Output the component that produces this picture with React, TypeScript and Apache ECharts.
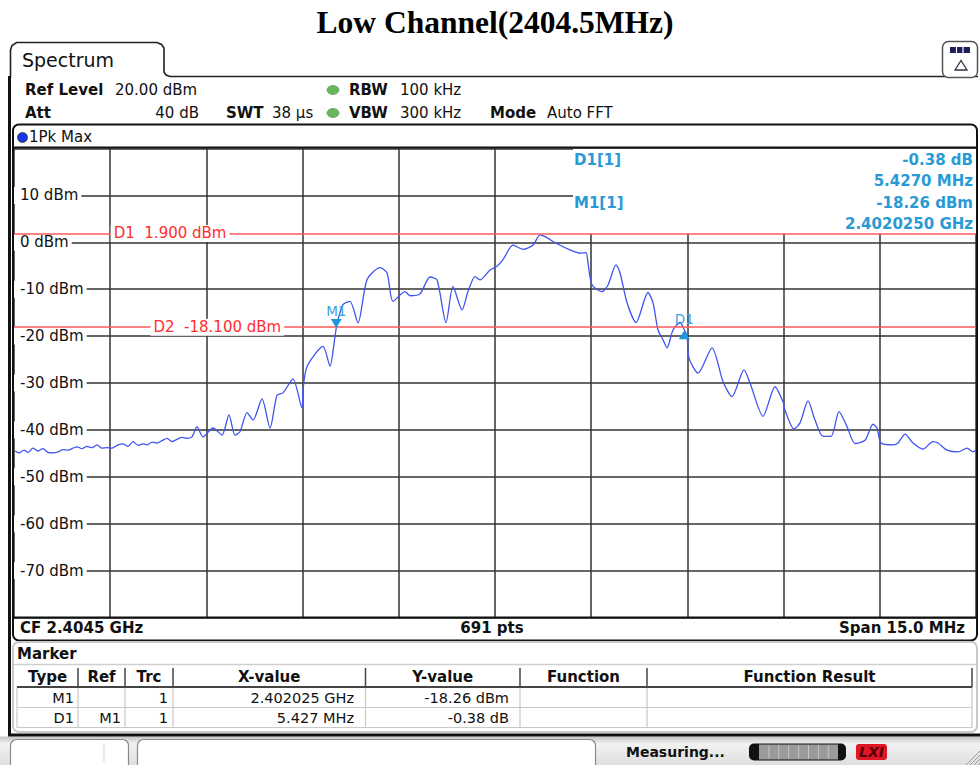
import React, { useEffect, useRef } from "react";
import * as echarts from "echarts";

const FONT = "'DejaVu Sans', Verdana, sans-serif";
const TITLE_FONT = "'Liberation Serif', 'Times New Roman', serif";

const titleText = "Low Channel(2404.5MHz)";

// trace (frequency in MHz, level in dBm)
const freqMHz = [
  2397.016, 2397.078, 2397.156, 2397.218, 2397.296, 2397.374, 2397.452, 2397.53, 2397.608, 2397.686,
  2397.764, 2397.842, 2397.92, 2397.982, 2398.06, 2398.138, 2398.216, 2398.294, 2398.372, 2398.45,
  2398.528, 2398.622, 2398.7, 2398.778, 2398.856, 2398.934, 2399.012, 2399.074, 2399.152, 2399.23,
  2399.308, 2399.386, 2399.464, 2399.542, 2399.62, 2399.698, 2399.776, 2399.853, 2399.947, 2400.103,
  2400.243, 2400.352, 2400.446, 2400.524, 2400.633, 2400.727, 2400.867, 2400.992, 2401.101, 2401.195,
  2401.35, 2401.491, 2401.506, 2401.569, 2401.818, 2401.927, 2402.005, 2402.025, 2402.052, 2402.13,
  2402.239, 2402.364, 2402.504, 2402.707, 2402.816, 2402.91, 2403.097, 2403.175, 2403.331, 2403.487,
  2403.596, 2403.736, 2403.845, 2403.986, 2404.079, 2404.188, 2404.266, 2404.422, 2404.531, 2404.625,
  2404.781, 2404.937, 2405.093, 2405.202, 2405.28, 2405.467, 2405.67, 2405.826, 2405.919, 2405.95,
  2406.013, 2406.169, 2406.262, 2406.387, 2406.449, 2406.559, 2406.699, 2406.886, 2406.964, 2407.042,
  2407.12, 2407.182, 2407.276, 2407.385, 2407.452, 2407.494, 2407.525, 2407.666, 2407.884, 2408.055,
  2408.196, 2408.383, 2408.476, 2408.679, 2408.866, 2408.991, 2409.022, 2409.163, 2409.256, 2409.381,
  2409.49, 2409.615, 2409.74, 2409.864, 2409.989, 2410.114, 2410.27, 2410.394, 2410.457, 2410.519,
  2410.706, 2410.784, 2410.893, 2411.018, 2411.174, 2411.33, 2411.408, 2411.548, 2411.72, 2411.86,
  2411.954, 2412.0,
];
const levelDbm = [
  -44.5, -44.9, -44.3, -44.8, -43.9, -44.5, -44.0, -44.8, -44.9, -44.7,
  -44.2, -44.3, -43.9, -43.6, -44.0, -43.5, -43.8, -43.2, -43.9, -43.8,
  -43.9, -43.2, -43.0, -43.5, -42.5, -43.3, -43.0, -43.2, -42.6, -42.8,
  -42.3, -41.8, -42.5, -42.0, -41.6, -41.8, -41.5, -39.3, -41.5, -39.6,
  -41.1, -36.8, -41.1, -40.4, -36.3, -37.9, -33.4, -39.6, -32.6, -32.1,
  -29.1, -35.3, -31.5, -26.5, -22.2, -26.4, -20.1, -18.26, -16.5, -13.3,
  -12.6, -17.2, -8.0, -5.4, -6.5, -12.6, -10.5, -11.4, -11.0, -7.4,
  -8.0, -17.1, -9.4, -14.4, -10.5, -7.3, -8.0, -5.9, -5.1, -3.7,
  -0.6, -1.5, -0.6, 1.6, 1.2, -0.3, -1.6, -2.3, -2.2, -4.4,
  -9.1, -10.5, -9.1, -4.8, -6.5, -12.9, -17.1, -10.7, -12.9, -18.7,
  -20.8, -22.5, -18.7, -17.1, -18.64, -20.0, -24.7, -27.9, -22.5, -29.7,
  -32.9, -27.2, -30.0, -37.1, -30.8, -34.0, -35.8, -39.8, -38.5, -33.8,
  -37.9, -41.4, -41.4, -36.1, -39.3, -42.9, -42.2, -38.8, -39.6, -42.8,
  -43.2, -42.8, -40.9, -42.8, -44.1, -42.5, -42.8, -44.3, -44.7, -43.9,
  -44.7, -44.3,
];

const xMin = 2397;
const xMax = 2412;
const xStep = 1.5;
const yMin = -80;
const yMax = 20;
const yStep = 10;

const displayLineValues = [1.9, -18.1];
const displayLineLabels = ["D1  1.900 dBm", "D2  -18.100 dBm"];
const displayLabelFreq = [2398.5, 2399.12];

const markerNames = ["M1", "D1"];
const markerFreq = [2402.025, 2407.452];
const markerLevel = [-18.26, -18.64];

const markerInfoNames = ["D1[1]", "M1[1]"];
const markerInfoValues = ["-0.38 dB", "5.4270 MHz", "-18.26 dBm", "2.4020250 GHz"];

const tableHeaders = ["Type", "Ref", "Trc", "X-value", "Y-value", "Function", "Function Result"];
const tableRows = [
  ["M1", "", "1", "2.402025 GHz", "-18.26 dBm", "", ""],
  ["D1", "M1", "1", "5.427 MHz", "-0.38 dB", "", ""],
];

const BLUE_TXT = "#2a9ad6";

function txt(x: number, y: number, text: string, o: any = {}) {
  return {
    type: "text",
    x,
    y,
    z: 20,
    silent: true,
    style: {
      text,
      fill: o.fill || "#111",
      fontSize: o.size || 15,
      fontWeight: o.bold ? "bold" : "normal",
      fontStyle: o.italic ? "italic" : "normal",
      fontFamily: o.family || FONT,
      align: o.align || "left",
      verticalAlign: "middle",
    },
  };
}
function ln(x1: number, y1: number, x2: number, y2: number, stroke: string, w = 1, z = 15) {
  return { type: "line", z, silent: true, shape: { x1, y1, x2, y2 }, style: { stroke, lineWidth: w } };
}
function rc(x: number, y: number, w: number, h: number, style: any, r: any = 0, z = 15) {
  return { type: "rect", z, silent: true, shape: { x, y, width: w, height: h, r }, style };
}

export default function App() {
  const ref = useRef<HTMLDivElement>(null);
  useEffect(() => {
    document.body.style.margin = "0";
    const chart = echarts.init(ref.current!, null, { renderer: "svg" });

    const traceData = freqMHz.map((f, i) => [f, levelDbm[i]]);

    const g: any[] = [];
    // title
    g.push(txt(495, 22, titleText, { family: TITLE_FONT, bold: true, size: 31.5, fill: "#000", align: "center" }));
    // tab + outer panel
    g.push({
      type: "polyline",
      z: 15,
      silent: true,
      shape: {
        points: [
          [10.5, 78], [10.5, 50], [12, 45.5], [16.5, 42.5], [157, 42.5], [161.5, 44.5],
          [164, 48], [164, 72], [166, 75], [170, 76.5], [978, 76.5],
        ],
      },
      style: { stroke: "#222", lineWidth: 1.6, fill: "none" },
    });
    g.push(ln(9.5, 76, 9.5, 736, "#111", 3));
    g.push(ln(8, 735, 980, 735, "#111", 3));
    g.push(txt(22, 60, "Spectrum", { size: 19 }));
    // icon top right
    g.push(rc(942.5, 41.5, 35, 36, { fill: "#fff", stroke: "#555", lineWidth: 1.5 }, 6, 16));
    g.push(rc(950, 47, 20, 6, { fill: "#1d1d5c" }, 0, 17));
    g.push(ln(956.5, 47, 956.5, 53, "#fff", 1.2, 18));
    g.push(ln(963, 47, 963, 53, "#fff", 1.2, 18));
    g.push({
      type: "polygon",
      z: 17,
      silent: true,
      shape: { points: [[955, 70], [967, 70], [961, 60.5]] },
      style: { fill: "none", stroke: "#334", lineWidth: 1.3 },
    });

    // header
    g.push(txt(25, 90, "Ref Level", { bold: true }));
    g.push(txt(115, 90, "20.00 dBm"));
    g.push(txt(349, 90, "RBW", { bold: true }));
    g.push(txt(400, 90, "100 kHz"));
    g.push(txt(25, 113, "Att", { bold: true }));
    g.push(txt(199, 113, "40 dB", { align: "right" }));
    g.push(txt(226, 113, "SWT", { bold: true }));
    g.push(txt(272, 113, "38 µs"));
    g.push(txt(349, 113, "VBW", { bold: true }));
    g.push(txt(400, 113, "300 kHz"));
    g.push(txt(490, 113, "Mode", { bold: true }));
    g.push(txt(547, 113, "Auto FFT"));
    for (const cy of [90, 113]) {
      g.push({
        type: "ellipse",
        z: 16,
        silent: true,
        shape: { cx: 333, cy, rx: 6, ry: 4.5 },
        style: { fill: "#67b85a", stroke: "#7a9a7a", lineWidth: 0.8 },
      });
    }

    // diagram frame
    g.push(rc(13, 124.5, 964, 516, { fill: "none", stroke: "#111", lineWidth: 2 }, 6, 15));
    g.push(ln(13, 147.5, 977, 147.5, "#111", 2));
    g.push(ln(13, 617.5, 977, 617.5, "#111", 2));
    g.push({
      type: "circle",
      z: 16,
      silent: true,
      shape: { cx: 22.5, cy: 137.5, r: 5 },
      style: { fill: "#1737e6", stroke: "#333", lineWidth: 0.8 },
    });
    g.push(txt(29, 137, "1Pk Max", { size: 15 }));
    g.push(txt(20, 628, "CF 2.4045 GHz", { bold: true }));
    g.push(txt(492, 628, "691 pts", { bold: true, align: "center" }));
    g.push(txt(965, 628, "Span 15.0 MHz", { bold: true, align: "right" }));

    // marker info box
    g.push(rc(573, 149, 403, 84.5, { fill: "#fff" }, 0, 1));
    g.push(txt(574, 160, markerInfoNames[0], { bold: true, fill: BLUE_TXT }));
    g.push(txt(574, 203, markerInfoNames[1], { bold: true, fill: BLUE_TXT }));
    [160, 181, 203, 224].forEach((y, i) =>
      g.push(txt(973, y, markerInfoValues[i], { bold: true, fill: BLUE_TXT, align: "right" }))
    );

    // marker table panel
    g.push(rc(13, 642, 964, 90, { fill: "none", stroke: "#c8c8c8", lineWidth: 2 }, 6, 15));
    g.push(txt(17, 654, "Marker", { bold: true }));
    g.push(ln(14, 664.5, 976, 664.5, "#cfcfcf", 1.5));
    const colEdges = [17, 78, 125, 173, 365.5, 520, 647, 972];
    for (let i = 1; i < colEdges.length; i++) {
      g.push(ln(colEdges[i], 668, colEdges[i], 687, "#444", 1.5));
    }
    for (let i = 0; i < colEdges.length; i++) {
      g.push(ln(colEdges[i], 687, colEdges[i], 728, "#c8c8c8", 1.2));
    }
    g.push(ln(17, 687, 972, 687, "#444", 2));
    g.push(ln(17, 707.5, 972, 707.5, "#c8c8c8", 1.2));
    g.push(ln(17, 727.5, 972, 727.5, "#c8c8c8", 1.2));
    tableHeaders.forEach((h, i) =>
      g.push(txt((colEdges[i] + colEdges[i + 1]) / 2, 677, h, { bold: true, align: "center" }))
    );
    const rowRight = [74, 121, 168, 354, 509, 640, 965];
    tableRows.forEach((row, r) =>
      row.forEach((c, i) => {
        if (c) g.push(txt(rowRight[i], 697.5 + r * 20, c, { size: 14.5, align: "right" }));
      })
    );

    // status bar
    g.push(
      rc(0, 736.5, 980, 29, {
        fill: {
          type: "linear", x: 0, y: 0, x2: 0, y2: 1,
          colorStops: [{ offset: 0, color: "#c4c4c4" }, { offset: 0.25, color: "#f2f2f2" }, { offset: 1, color: "#dedede" }],
        },
      }, 0, 12)
    );
    g.push(rc(10.5, 739.5, 118, 32, { fill: "#fff", stroke: "#8a8a8a", lineWidth: 1.2 }, 6, 13));
    g.push(ln(104, 743, 104, 762, "#dddddd", 1.2, 14));
    g.push(rc(137.5, 739.5, 458, 32, { fill: "#fff", stroke: "#8a8a8a", lineWidth: 1.2 }, 6, 13));
    g.push(txt(626, 751.5, "Measuring...", { bold: true, size: 14 }));
    g.push(rc(749, 743.5, 97, 17, { fill: "#111" }, 5, 13));
    g.push(rc(759, 744.5, 79, 15, { fill: "#9a9a9a" }, 0, 14));
    for (let k = 1; k < 8; k++) g.push(ln(759 + k * 9.9, 745, 759 + k * 9.9, 759, "#c4c4c4", 1, 15));
    g.push(rc(856, 744, 31, 16, { fill: "#e01525" }, 3, 13));
    g.push(txt(871.5, 752, "LXI", { bold: true, italic: true, size: 14, fill: "#5a0008", align: "center" }));
    for (let k = 0; k < 4; k++) g.push(ln(966 + k * 4, 765, 980, 751 + k * 4, "#9a9a9a", 1, 14));

    const markData: any[] = displayLineValues.map((v, i) => ({
      coord: [displayLabelFreq[i], v],
      symbol: "circle",
      symbolSize: 1,
      itemStyle: { color: "rgba(0,0,0,0)" },
      label: {
        show: true,
        formatter: displayLineLabels[i],
        position: "right",
        distance: 0,
        color: "#ff2e2e",
        fontSize: 15,
        fontFamily: FONT,
        backgroundColor: "#fff",
        padding: [1, 3, 1, 3],
      },
    }));
    markerNames.forEach((n, i) => {
      const isM = n.startsWith("M");
      markData.push({
        coord: [markerFreq[i], markerLevel[i]],
        symbol: "triangle",
        symbolSize: [11, 9],
        symbolRotate: isM ? 180 : 0,
        symbolOffset: [0, isM ? -4.5 : 5],
        itemStyle: { color: "#1c97dc" },
        label: {
          show: true,
          formatter: n,
          position: "top",
          distance: isM ? 1 : 4,
          color: "#3aa3dc",
          fontSize: 13.5,
          fontFamily: FONT,
        },
      });
    });

    chart.setOption({
      animation: false,
      backgroundColor: "#fff",
      grid: { left: 14, top: 148.5, width: 962, height: 469, containLabel: false },
      xAxis: {
        type: "value",
        min: xMin,
        max: xMax,
        interval: xStep,
        axisLine: { show: false },
        axisTick: { show: false },
        axisLabel: { show: false },
        splitLine: { show: true, lineStyle: { color: "#333", width: 1.5 } },
      },
      yAxis: {
        type: "value",
        min: yMin,
        max: yMax,
        interval: yStep,
        axisLine: { show: false },
        axisTick: { show: false },
        splitLine: { show: true, lineStyle: { color: "#333", width: 1.5 } },
        axisLabel: {
          inside: true,
          margin: 0,
          showMinLabel: false,
          showMaxLabel: false,
          formatter: (v: number) => `${v} dBm`,
          color: "#111",
          fontSize: 15,
          fontFamily: FONT,
          backgroundColor: "#fff",
          padding: [1, 3, 1, 6],
          align: "left",
        },
      },
      graphic: { elements: g },
      series: [
        {
          type: "line",
          data: traceData,
          showSymbol: false,
          smooth: 0.25,
          lineStyle: { color: "#4054ef", width: 1.3 },
          z: 3,
          markLine: {
            silent: true,
            symbol: "none",
            label: { show: false },
            lineStyle: { color: "#ff5a5a", width: 1.5, type: "solid" },
            data: displayLineValues.map((v) => ({ yAxis: v })),
          },
          markPoint: { silent: true, data: markData },
        },
      ],
    });
    return () => chart.dispose();
  }, []);
  return <div ref={ref} style={{ position: "absolute", left: 0, top: 0, width: 980, height: 765 }} />;
}
